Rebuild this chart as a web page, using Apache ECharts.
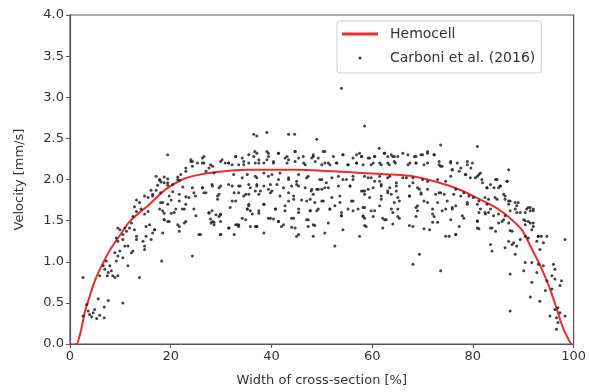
<!DOCTYPE html>
<html>
<head>
<meta charset="utf-8">
<script src="https://cdn.jsdelivr.net/npm/echarts@6/dist/echarts.min.js"></script>
<style>
  html, body { margin: 0; padding: 0; background: #fff; }
  #chart { width: 589px; height: 392px; }
</style>
</head>
<body>
<div id="chart"></div>
<script>
const hemocell = [
  [1.0, 0], [1.3, 0], [2, 0.12], [3, 0.4], [3.5, 0.5], [5, 0.78], [6.7, 1.0], [8, 1.15],
  [10, 1.33], [12, 1.5], [15.8, 1.70], [19, 1.88], [22.3, 2.0], [25, 2.05], [29, 2.09],
  [35, 2.12], [45, 2.12], [52, 2.10], [58, 2.08], [64, 2.06], [68, 2.04], [71, 2.0],
  [75, 1.93], [78, 1.86], [81, 1.77], [84.5, 1.66], [87, 1.55], [89.7, 1.39], [91.5, 1.18],
  [93.4, 0.95], [95, 0.72], [96, 0.55], [97, 0.36], [98, 0.18], [99.3, 0.02], [99.6, 0]
]

// measured points, left wall region
const carboniLeft = [
  [2.6, 0.81], [2.6, 0.34], [3.3, 0.48], [3.6, 0.40], [3.9, 0.36], [4.6, 0.38], [4.9, 0.42],
  [4.3, 0.33], [5.3, 0.31], [5.6, 0.55], [5.9, 0.35], [6.8, 0.32], [6.8, 0.45], [7.6, 0.53],
  [10.5, 0.50], [5.9, 0.83], [6.6, 0.95], [6.9, 0.91], [7.2, 1.01], [7.6, 0.87], [7.9, 0.95],
  [7.4, 0.83], [8.2, 0.89], [8.5, 0.83], [8.9, 0.81], [9.5, 0.83], [9.2, 1.01], [9.5, 1.07],
  [9.9, 1.13], [8.9, 1.11], [10.5, 1.05], [11.5, 0.95], [12.2, 1.11], [12.5, 1.13], [11.5, 1.19],
  [10.9, 1.19], [10.5, 1.27], [9.5, 1.25], [9.2, 1.29], [9.9, 1.39], [9.5, 1.41], [10.5, 1.33],
  [10.9, 1.41], [11.2, 1.37], [11.8, 1.41], [12.2, 1.47], [12.8, 1.39], [13.2, 1.31], [13.2, 1.27],
  [13.8, 0.81], [12.5, 1.55], [13.2, 1.61], [12.8, 1.67], [13.2, 1.75], [13.8, 1.72], [14.1, 1.64],
  [14.8, 1.58], [15.5, 1.61], [14.8, 1.80], [15.5, 1.78], [15.1, 1.31], [14.8, 1.19], [14.8, 1.15],
  [14.5, 1.25], [15.1, 1.43], [15.8, 1.45], [16.4, 1.35], [16.1, 1.27], [16.8, 1.39], [16.1, 1.87],
  [16.4, 1.80], [17.1, 1.87], [17.4, 1.93], [17.8, 1.99], [18.1, 1.97], [18.7, 2.03], [19.4, 2.01],
  [19.4, 2.30], [17.8, 1.64], [18.4, 1.72], [18.7, 1.59], [18.7, 1.51], [19.4, 1.49], [20.1, 1.59],
  [18.4, 1.35], [18.2, 1.01], [19.4, 1.93], [20.4, 1.85], [20.1, 1.75], [21.0, 1.64], [21.4, 1.45],
  [21.7, 1.43], [22.7, 1.47], [21.4, 2.03], [21.7, 1.99], [22.4, 1.91], [23.0, 2.14], [24.0, 2.22],
  [24.3, 1.07], [23.0, 1.79], [22.7, 1.64]
]

// measured points, centre region
const carboniMid = [
  [25.9, 1.33], [29.9, 1.33], [24.6, 1.84], [25.0, 1.56], [24.6, 1.64], [24.0, 2.24], [24.3, 2.16],
  [25.3, 2.20], [26.3, 2.26], [26.6, 2.20], [27.0, 2.10], [27.6, 2.14], [28.3, 2.16], [28.6, 2.08],
  [26.3, 1.90], [27.0, 1.84], [28.3, 1.92], [27.6, 1.59], [28.0, 1.47], [28.6, 1.45], [28.3, 1.49],
  [29.0, 1.57], [29.6, 1.55], [29.9, 1.57], [29.6, 1.82], [29.9, 1.92], [30.2, 2.24], [30.8, 2.20],
  [31.5, 2.20], [32.2, 2.18], [32.9, 2.28], [33.5, 2.18], [34.2, 2.26], [34.5, 2.18], [35.5, 2.20],
  [36.5, 2.28], [37.1, 2.32], [37.5, 2.24], [38.5, 2.20], [39.1, 2.34], [39.4, 2.28], [40.4, 2.22],
  [41.4, 2.32], [42.7, 2.26], [43.4, 2.24], [44.7, 2.34], [45.4, 2.26], [46.4, 2.20], [48.0, 2.26],
  [49.0, 2.49], [36.5, 2.55], [39.1, 2.57], [43.4, 2.55], [44.6, 2.55], [32.5, 2.06], [34.2, 2.02],
  [35.2, 2.06], [36.8, 2.04], [38.5, 2.08], [40.1, 2.06], [41.7, 2.08], [43.4, 2.00], [45.4, 2.06],
  [47.0, 2.02], [32.2, 1.92], [33.8, 1.92], [35.8, 1.90], [37.1, 1.94], [38.5, 1.92], [39.4, 1.88],
  [41.1, 1.94], [42.4, 1.90], [44.0, 1.92], [45.4, 1.92], [46.7, 1.90], [48.0, 1.88], [33.5, 1.84],
  [34.5, 1.80], [35.5, 1.82], [37.5, 1.82], [39.8, 1.84], [41.7, 1.80], [43.4, 1.84], [44.4, 1.76],
  [46.0, 1.75], [47.7, 1.76], [32.2, 1.74], [35.5, 1.68], [35.2, 1.64], [35.8, 1.62], [37.5, 1.59],
  [38.5, 1.70], [40.8, 1.64], [42.7, 1.68], [45.4, 1.64], [47.7, 1.62], [34.2, 1.53], [39.4, 1.53],
  [41.4, 1.49], [44.0, 1.53], [47.0, 1.51], [31.5, 1.41], [32.9, 1.45], [33.5, 1.45], [37.1, 1.43],
  [38.5, 1.35], [42.4, 1.45], [45.0, 1.31], [48.3, 1.31], [48.3, 1.45], [31.6, 1.41], [36.8, 1.43],
  [40.4, 1.52], [44.0, 1.42],
  [53.9, 3.11], [58.5, 2.65], [48.3, 2.30], [50.3, 2.34], [49.3, 2.26], [50.6, 2.20], [51.6, 2.18],
  [52.9, 2.20], [54.2, 2.30], [55.2, 2.18], [56.9, 2.30], [57.9, 2.28], [56.9, 2.20], [58.2, 2.18],
  [59.5, 2.26], [60.5, 2.28], [61.4, 2.38], [62.4, 2.32], [63.1, 2.28], [64.1, 2.28], [65.1, 2.28],
  [67.1, 2.30], [68.4, 2.28], [69.7, 2.30], [71.0, 2.32], [72.3, 2.30], [73.3, 2.18], [68.7, 2.20],
  [70.3, 2.18], [67.5, 2.20], [64.6, 2.20], [61.8, 2.18], [60.2, 2.20], [63.4, 2.18],
  [49.6, 2.00], [50.9, 1.96], [53.3, 2.04], [54.9, 2.00], [56.2, 2.00], [59.2, 2.02], [60.5, 1.98],
  [61.5, 2.04], [63.5, 2.04], [66.1, 2.02], [68.1, 2.02], [71.0, 1.98], [49.0, 1.88], [50.0, 1.88],
  [51.3, 1.90], [53.3, 1.92], [55.6, 1.92], [58.2, 1.86], [59.2, 1.88], [61.8, 1.94], [63.5, 1.90],
  [64.8, 1.86], [67.4, 1.92], [69.4, 1.88], [72.6, 1.82], [48.6, 1.72], [50.3, 1.74], [52.0, 1.78],
  [53.6, 1.72], [55.9, 1.74], [58.5, 1.82], [61.8, 1.80], [63.1, 1.84], [64.4, 1.72], [65.4, 1.74],
  [67.4, 1.80], [69.7, 1.82], [71.0, 1.72], [49.3, 1.64], [51.6, 1.64], [52.6, 1.68], [53.9, 1.60],
  [57.2, 1.64], [58.5, 1.66], [59.8, 1.62], [61.5, 1.68], [63.8, 1.64], [64.1, 1.60], [69.0, 1.68],
  [69.0, 1.62], [72.0, 1.58], [48.6, 1.44], [53.9, 1.56], [55.2, 1.64], [58.2, 1.55], [60.2, 1.55],
  [62.1, 1.53], [62.8, 1.51], [65.1, 1.55], [67.4, 1.44], [70.3, 1.40], [72.0, 1.48], [58.5, 1.44],
  [64.1, 1.46], [57.5, 1.31], [52.6, 1.19], [69.4, 1.09], [68.1, 0.97], [73.6, 0.89]
]

// measured points, right wall region
const carboniRight = [
  [73.6, 2.42], [80.9, 2.40], [73.6, 2.16], [75.6, 2.20], [75.9, 2.12], [75.6, 2.04], [77.3, 2.10],
  [77.6, 2.14], [78.5, 2.06], [79.6, 2.14], [79.9, 2.20], [80.5, 2.02], [81.2, 2.06], [81.8, 2.00],
  [82.8, 1.90], [83.5, 1.94], [84.8, 2.00], [85.1, 1.90], [85.4, 1.92], [87.1, 2.12], [86.8, 1.98],
  [73.3, 1.84], [74.3, 1.82], [76.2, 1.82], [78.2, 1.84], [79.2, 1.80], [80.1, 1.78], [82.4, 1.78],
  [83.1, 1.76], [84.4, 1.78], [86.4, 1.80], [87.1, 1.74], [74.6, 1.64], [75.9, 1.66], [76.6, 1.68],
  [77.9, 1.56], [78.9, 1.70], [80.9, 1.70], [81.2, 1.60], [82.4, 1.60], [83.5, 1.64], [84.1, 1.56],
  [85.1, 1.58], [86.4, 1.56], [87.4, 1.62], [88.4, 1.64], [89.0, 1.72], [88.7, 1.60], [90.7, 1.64],
  [91.4, 1.66], [92.0, 1.62], [73.0, 1.48], [75.3, 1.31], [76.6, 1.33], [77.3, 1.43], [80.9, 1.41],
  [80.9, 1.49], [83.5, 1.41], [84.5, 1.37], [85.8, 1.49], [87.1, 1.47], [87.8, 1.37], [90.1, 1.51],
  [90.4, 1.45], [91.0, 1.49], [92.0, 1.47], [91.7, 1.39], [83.5, 1.21], [83.8, 1.13], [86.4, 1.17],
  [87.1, 1.25], [87.8, 1.21], [88.1, 1.23], [88.7, 1.19], [89.4, 1.27], [88.4, 1.09], [90.4, 1.31],
  [91.0, 1.29], [92.7, 1.25], [93.0, 1.31], [94.0, 1.23], [94.7, 1.31], [93.3, 1.15], [98.3, 1.27],
  [87.4, 0.85], [90.1, 0.89], [90.4, 0.99], [91.7, 0.99], [93.0, 0.97], [94.0, 0.95], [92.7, 0.87],
  [91.7, 0.75], [94.7, 0.77], [96.0, 0.97], [96.3, 0.91], [95.7, 0.83], [96.3, 0.79], [97.6, 0.77],
  [97.3, 0.71], [94.4, 0.65], [93.3, 0.52], [91.4, 0.57], [95.7, 0.67], [87.4, 0.40], [95.3, 0.34],
  [96.3, 0.42], [96.9, 0.44], [97.3, 0.38], [96.6, 0.32], [96.9, 0.26], [96.6, 0.18], [98.3, 0.34]
]

// measured points, dense band read at higher zoom
const carboniBand = [
  [26.6, 2.28], [26.3, 2.20], [24.3, 2.22], [27.9, 2.18], [29.9, 2.22], [31.5, 2.20], [32.9, 2.28],
  [34.5, 2.22], [35.5, 2.30], [36.8, 2.20], [37.1, 2.53], [17.1, 2.04], [17.8, 2.00], [18.7, 1.96],
  [19.4, 1.96], [20.4, 1.94], [21.4, 2.00], [22.0, 2.06], [23.0, 2.10], [24.3, 1.90], [26.3, 1.90],
  [28.2, 1.94], [29.6, 1.90], [31.5, 1.94], [33.5, 1.92], [35.5, 1.94], [16.4, 1.82], [18.0, 1.84],
  [19.7, 1.80], [21.7, 1.82], [23.6, 1.78], [24.9, 1.80], [26.6, 1.84], [29.3, 1.80], [32.6, 1.84],
  [34.9, 1.82], [36.8, 1.86], [18.0, 1.72], [19.4, 1.70], [21.7, 1.74], [23.0, 1.70], [29.3, 1.76],
  [32.9, 1.74], [35.5, 1.70], [18.4, 1.62], [20.7, 1.60], [22.3, 1.64], [28.2, 1.62], [29.9, 1.58],
  [31.8, 1.66], [35.2, 1.64], [36.2, 1.58], [18.7, 1.51], [19.7, 1.49], [23.0, 1.49], [27.6, 1.60],
  [27.9, 1.52], [28.6, 1.48], [29.9, 1.49], [33.2, 1.45], [34.9, 1.51], [35.8, 1.43], [16.8, 1.39],
  [21.7, 1.37], [25.6, 1.33], [29.9, 1.33], [33.5, 1.43], [32.6, 1.33],
  [36.7, 2.34], [39.4, 2.32], [41.4, 2.32], [43.1, 2.28], [44.7, 2.34], [46.3, 2.28], [48.3, 2.28],
  [50.6, 2.34], [52.3, 2.28], [54.2, 2.30], [56.2, 2.26], [57.5, 2.32], [37.5, 2.20], [39.1, 2.24],
  [40.4, 2.20], [43.1, 2.20], [44.7, 2.22], [46.7, 2.18], [48.7, 2.22], [50.0, 2.18], [51.3, 2.20],
  [53.0, 2.20], [55.2, 2.18], [56.9, 2.20], [37.1, 2.02], [39.4, 2.04], [41.4, 2.00], [43.4, 2.02],
  [45.0, 1.98], [47.3, 2.04], [50.0, 2.00], [52.0, 2.02], [54.2, 2.00], [56.2, 2.04], [37.1, 1.92],
  [37.8, 1.86], [39.8, 1.94], [40.1, 1.86], [45.0, 1.94], [47.9, 1.86], [49.3, 1.88], [50.6, 1.90],
  [55.6, 1.92], [57.9, 1.86], [38.5, 1.70], [44.4, 1.80], [47.0, 1.74], [48.3, 1.82], [50.0, 1.74],
  [53.6, 1.80], [56.2, 1.74], [43.4, 1.74], [37.5, 1.62], [40.8, 1.64], [42.7, 1.62], [45.4, 1.60],
  [47.7, 1.62], [49.0, 1.62], [51.6, 1.64], [53.9, 1.56], [56.2, 1.62], [58.2, 1.56], [39.8, 1.53],
  [41.4, 1.49], [44.4, 1.53], [47.3, 1.51], [47.3, 1.43], [51.3, 1.47], [37.1, 1.43], [42.0, 1.43],
  [54.2, 1.39], [44.7, 1.41], [50.6, 1.35], [45.4, 1.33],
  [62.5, 2.32], [63.8, 2.30], [64.4, 2.28], [66.1, 2.32], [68.7, 2.28], [70.0, 2.30], [71.0, 2.34],
  [72.3, 2.30], [73.3, 2.22], [75.6, 2.22], [76.9, 2.20], [57.9, 2.28], [59.2, 2.26], [60.5, 2.28],
  [59.8, 2.18], [61.5, 2.20], [63.1, 2.20], [64.4, 2.22], [67.1, 2.18], [68.7, 2.20], [71.0, 2.20],
  [73.9, 2.16], [75.9, 2.12], [58.5, 2.04], [59.8, 2.02], [61.5, 1.98], [63.1, 2.02], [64.8, 1.96],
  [66.8, 2.02], [68.1, 1.96], [70.0, 2.00], [73.0, 2.00], [74.6, 1.98], [58.5, 1.86], [60.2, 1.90],
  [61.8, 1.92], [63.1, 1.86], [64.8, 1.92], [69.0, 1.90], [69.7, 1.84], [71.0, 1.88], [73.6, 1.84],
  [76.6, 1.88], [59.5, 1.78], [61.8, 1.76], [63.8, 1.82], [65.1, 1.78], [67.4, 1.80], [70.3, 1.74],
  [73.0, 1.72], [74.9, 1.74], [77.6, 1.80], [58.2, 1.66], [60.5, 1.62], [65.1, 1.64], [68.7, 1.66],
  [72.0, 1.64], [73.9, 1.62], [75.9, 1.64], [58.5, 1.53], [62.5, 1.51], [65.4, 1.53], [68.7, 1.55],
  [72.3, 1.55], [75.6, 1.51], [78.2, 1.53], [58.8, 1.43], [62.1, 1.41], [68.1, 1.43], [71.4, 1.39],
  [74.6, 1.31], [76.6, 1.33],
  [78.9, 2.22], [78.9, 2.18], [78.6, 2.06], [79.5, 2.02], [80.9, 2.04], [81.5, 2.08], [81.9, 1.96],
  [82.8, 1.90], [84.5, 2.00], [85.5, 1.92], [86.8, 1.98], [84.2, 1.90], [78.9, 1.72], [81.2, 1.74],
  [81.5, 1.64], [82.8, 1.70], [82.5, 1.58], [83.1, 1.60], [84.8, 1.76], [86.1, 1.82], [86.4, 1.76],
  [87.1, 1.70], [87.4, 1.74], [88.4, 1.72], [88.7, 1.68], [89.4, 1.60], [90.4, 1.60], [91.0, 1.66],
  [91.4, 1.62], [92.0, 1.64], [80.9, 1.50], [81.2, 1.40], [83.8, 1.41], [85.1, 1.47], [86.1, 1.51],
  [87.4, 1.38], [90.4, 1.50], [91.4, 1.47], [92.0, 1.43], [93.0, 1.31], [93.6, 1.31]
]

const carboni = carboniLeft.concat(carboniMid, carboniRight, carboniBand)

const chart = echarts.init(document.getElementById('chart'), null, { renderer: 'canvas' })

const font = 'DejaVu Sans'

const option = {
  animation: false,
  backgroundColor: '#fff',
  textStyle: { fontFamily: font },
  grid: {
    left: 70,
    right: 12,
    top: 15,
    bottom: 47,
    show: true,
    borderColor: '#555',
    borderWidth: 1.2
  },
  legend: {
    left: 337,
    top: 21,
    orient: 'vertical',
    itemWidth: 36,
    itemHeight: 3,
    itemGap: 10,
    padding: [6, 6, 8, 5],
    backgroundColor: '#fff',
    borderColor: '#ccc',
    borderWidth: 1,
    borderRadius: 3,
    textStyle: { fontSize: 14, color: '#333', fontFamily: font, padding: [0, 0, 0, 7] },
    data: [
      { name: 'Hemocell', icon: 'rect' },
      { name: 'Carboni et al. (2016)', icon: 'circle' }
    ]
  },
  xAxis: {
    type: 'value',
    min: 0,
    max: 100,
    interval: 20,
    name: 'Width of cross-section [%]',
    nameLocation: 'middle',
    nameGap: 30,
    nameTextStyle: { fontSize: 13, color: '#333' },
    axisLine: { lineStyle: { color: '#555', width: 1.2 } },
    axisTick: { show: true, length: 4, lineStyle: { color: '#555' } },
    axisLabel: { fontSize: 13, color: '#333', margin: 6 },
    splitLine: { show: false }
  },
  yAxis: {
    type: 'value',
    min: 0,
    max: 4,
    interval: 0.5,
    name: 'Velocity [mm/s]',
    nameLocation: 'middle',
    nameGap: 44,
    nameTextStyle: { fontSize: 13, color: '#333' },
    axisLine: { show: true, lineStyle: { color: '#555', width: 1.2 } },
    axisTick: { show: true, length: 4, lineStyle: { color: '#555' } },
    axisLabel: { fontSize: 13, color: '#333', margin: 6, formatter: v => v.toFixed(1) },
    splitLine: { show: false }
  },
  series: [
    {
      name: 'Hemocell',
      type: 'line',
      data: hemocell,
      smooth: 0.3,
      showSymbol: false,
      lineStyle: { color: '#ee2b2b', width: 2 },
      itemStyle: { color: '#ee2b2b' },
      z: 3
    },
    {
      name: 'Carboni et al. (2016)',
      type: 'scatter',
      data: carboni,
      symbol: 'circle',
      symbolSize: 3,
      itemStyle: { color: '#222', opacity: 0.85 },
      z: 4
    }
  ]
}

chart.setOption(option)
</script>
</body>
</html>
